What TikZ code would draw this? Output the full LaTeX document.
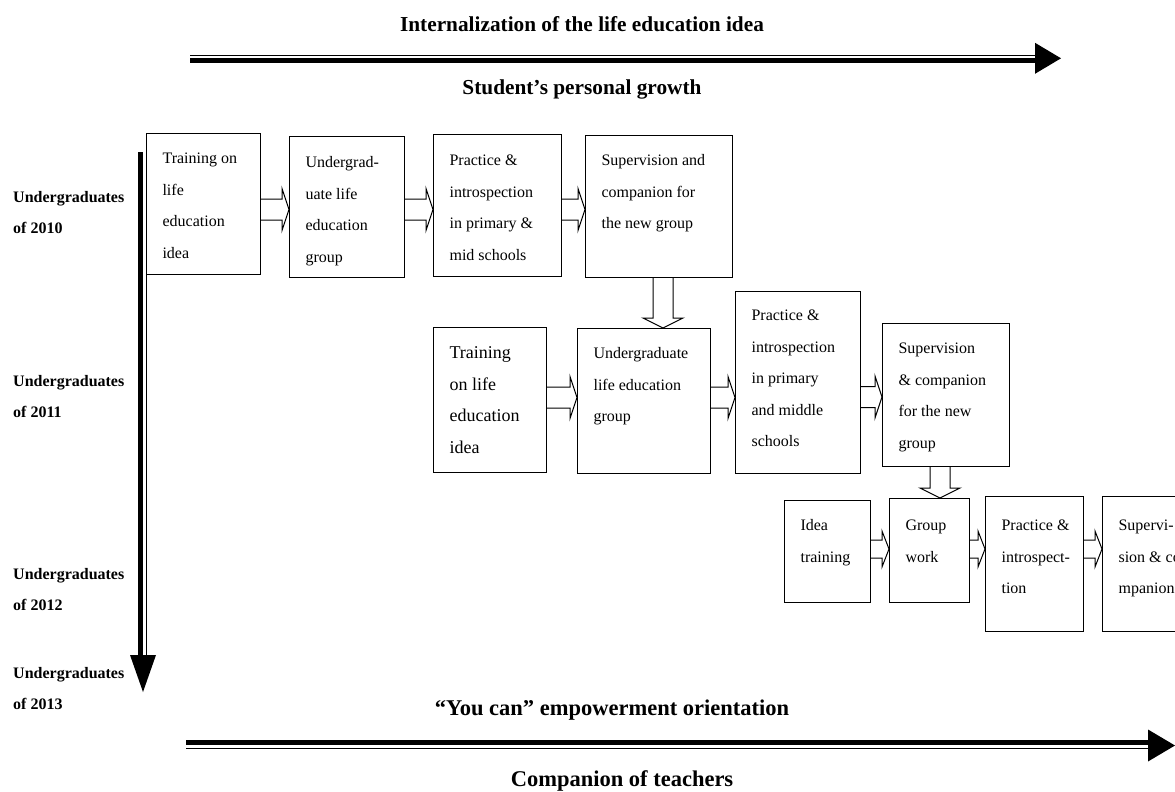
\documentclass[tikz,border=0pt]{standalone}
\usepackage{fontspec}
\setmainfont{Liberation Serif}
\usetikzlibrary{calc}
\tikzstyle{stage} = [rectangle, draw=black, line width=1.1pt, inner sep=0pt, anchor=north west]
\tikzstyle{cohort} = [anchor=base west, inner sep=0pt, font=\bfseries\fontsize{16pt}{31pt}\selectfont]
\tikzstyle{heading} = [anchor=base, inner sep=0pt, font=\bfseries\fontsize{21.3pt}{25pt}\selectfont]
\tikzstyle{bigheading} = [heading, font=\bfseries\fontsize{22.5pt}{26pt}\selectfont]
\tikzstyle{hollow} = [draw=black, line width=1pt, line join=miter]
% text of a stage box: width, height, first baseline, lines, font size
\newcommand{\stagetext}[5]{\parbox[c][#2pt][t]{#1pt}{\fontsize{#5pt}{31.5pt}\selectfont\raggedright\leftskip=16pt\rule{0pt}{#3pt}#4}}
% hollow arrow to the right: from, to, y, half shaft
\newcommand{\fatright}[4]{\draw[hollow] (#1.east |- 0,{#3-#4}) -- ($(#2.west |- 0,#3)+(-7,{-#4})$) -- ++(0,{-#4}) -- (#2.west |- 0,#3) -- ++(-7,{2*#4}) -- ++(0,{-#4}) -- (#1.east |- 0,{#3+#4});}
% hollow arrow downwards: from, to, x, half shaft
\newcommand{\fatdown}[4]{\draw[hollow] ({#3-#4},0 |- #1.south) -- ($({#3},0 |- #2.north)+({-#4},-10)$) -- ++({-#4},0) -- ({#3},0 |- #2.north) -- ++({2*#4},-10) -- ++({-#4},0) -- ({#3+#4},0 |- #1.south);}

\begin{document}
\begin{tikzpicture}[x=1pt, y=-1pt]
    \useasboundingbox (0,0) rectangle (1175,792);

    \node(Internal)[heading] at (582,32) {Internalization of the life education idea};
    \node(Growth)[heading] at (582,95) {Student’s personal growth};
    \node(YouCan)[bigheading] at (612,715) {“You can” empowerment orientation};
    \node(Teachers)[bigheading] at (622,786) {Companion of teachers};

    % big arrows
    \coordinate (topL) at (190,58.3);
    \coordinate (topR) at (1061,58.3);
    \draw[line width=1.5pt] ($(topL)+(0,-3)$) -- ($(topR)+(-25,-3)$);
    \draw[line width=4.4pt] ($(topL)+(0,2.2)$) -- ($(topR)+(-25,2.2)$);
    \fill (topR) -- ++(-26,-15.5) -- ++(0,31) -- cycle;

    \coordinate (botL) at (186,745.5);
    \coordinate (botR) at (1175,745.5);
    \draw[line width=5pt] ($(botL)+(0,-3.5)$) -- ($(botR)+(-26,-3.5)$);
    \draw[line width=1.5pt] ($(botL)+(0,2.8)$) -- ($(botR)+(-26,2.8)$);
    \fill (botR) -- ++(-27,-16) -- ++(0,32) -- cycle;

    \coordinate (vT) at (143,152);
    \coordinate (vB) at (143,692);
    \draw[line width=5pt] ($(vT)+(-2.5,0)$) -- ($(vB)+(-2.5,-36)$);
    \draw[line width=1.5pt] ($(vT)+(3.5,0)$) -- ($(vB)+(3.5,-36)$);
    \fill (vB) -- ++(-13,-37) -- ++(26,0) -- cycle;

    % cohorts
    \node(U2010)[cohort] at (13,202) {\parbox[t]{140pt}{Undergraduates\\of 2010}};
    \node(U2011)[cohort] at (13,386) {\parbox[t]{140pt}{Undergraduates\\of 2011}};
    \node(U2012)[cohort] at (13,579) {\parbox[t]{140pt}{Undergraduates\\of 2012}};
    \node(U2013)[cohort] at (13,678) {\parbox[t]{140pt}{Undergraduates\\of 2013}};

    % 2010
    \node(Train1)[stage] at (146,133) {\stagetext{114}{141}{30}{Training on\\life\\education\\idea}{16}};
    \node(Group1)[stage] at (289,136) {\stagetext{115}{141}{31}{Undergrad-\\uate life\\education\\group}{16}};
    \node(Practice1)[stage] at (433,134) {\stagetext{128}{142}{31}{Practice \&\\introspection\\in primary \&\\mid schools}{16}};
    \node(Super1)[stage] at (585,135) {\stagetext{147}{142}{30}{Supervision and\\companion for\\the new group}{16}};
    \fatright{Train1}{Group1}{209.5}{10.5}
    \fatright{Group1}{Practice1}{209.5}{10.5}
    \fatright{Practice1}{Super1}{209.5}{10.5}

    % 2011
    \node(Train2)[stage] at (433,327) {\stagetext{113}{145}{31}{Training\\on life\\education\\idea}{18}};
    \node(Group2)[stage] at (577,328) {\stagetext{133}{145}{30}{Undergraduate\\life education\\group}{16}};
    \node(Practice2)[stage] at (735,291) {\stagetext{125}{182}{29}{Practice \&\\introspection\\in primary\\and middle\\schools}{16}};
    \node(Super2)[stage] at (882,323) {\stagetext{127}{143}{30}{Supervision\\\& companion\\for the new\\group}{16}};
    \fatdown{Super1}{Group2}{663}{10}
    \fatright{Train2}{Group2}{397.5}{10.5}
    \fatright{Group2}{Practice2}{397.5}{10.5}
    \fatright{Practice2}{Super2}{397}{10.5}

    % 2012
    \node(Train3)[stage] at (784,500) {\stagetext{86}{102}{30}{Idea\\training}{16}};
    \node(Group3)[stage] at (889,498) {\stagetext{80}{104}{32}{Group\\work}{16}};
    \node(Practice3)[stage] at (985,496) {\stagetext{98}{135}{34}{Practice \&\\introspect-\\tion}{16}};
    \node(Super3)[stage] at (1102,496) {\stagetext{110}{135}{34}{Supervi-\\sion \& co\\mpanion}{16}};
    \fatdown{Super2}{Group3}{940}{10}
    \fatright{Train3}{Group3}{549}{9}
    \fatright{Group3}{Practice3}{549}{9}
    \fatright{Practice3}{Super3}{549}{9}

\end{tikzpicture}
\end{document}
